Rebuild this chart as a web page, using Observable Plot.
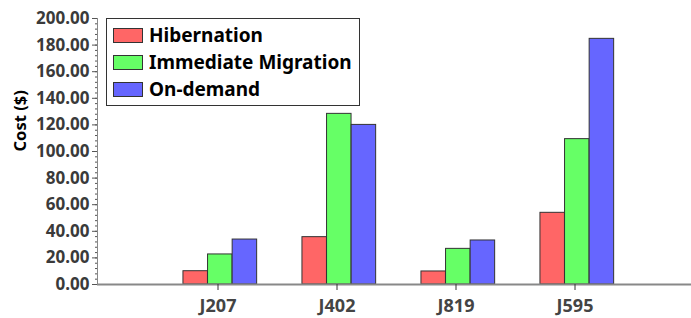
<!DOCTYPE html>
<html>
<head>
<meta charset="utf-8">
<script src="https://cdn.jsdelivr.net/npm/d3@7"></script>
<script src="https://cdn.jsdelivr.net/npm/@observablehq/plot@0.6"></script>
<style>
  html, body { margin: 0; padding: 0; background: #fff; }
  #wrap { position: relative; width: 691px; height: 318px; font-family: "Noto Sans", sans-serif; font-weight: bold; }
  #legend { position: absolute; left: 106px; top: 18px; width: 252px; height: 86px; border: 1px solid #333; background: #fff; box-sizing: content-box; }
  .row { position: absolute; left: 6px; height: 20px; display: flex; align-items: center; font-size: 19px; color: #000; white-space: nowrap; }
  .sw { width: 28px; height: 13px; border: 1px solid #333; margin-right: 6px; }
</style>
</head>
<body>
<div id="wrap"><div id="legend"></div></div>
<script>
const jobs = ["J207", "J402", "J819", "J595"];
const series = ["Hibernation", "Immediate Migration", "On-demand"];
const colors = ["#ff6666", "#66ff66", "#6666ff"];
const hibernation = [10.0, 35.6, 9.8, 53.9];
const immediateMigration = [22.6, 128.3, 26.8, 109.3];
const onDemand = [33.8, 120.0, 33.1, 184.7];
const yTicks = d3.range(0, 201, 20);
const yMinorTicks = d3.range(0, 201, 4);

const values = [hibernation, immediateMigration, onDemand];
const data = jobs.flatMap((job, i) => series.map((s, k) => ({job, series: s, value: values[k][i]})));

const barW = 24.6;
const bandW = (634.4 - 158) / jobs.length;
const inset = (bandW - barW) / 2;
const offsets = [-22.3, 2.3, 26.9];

const chart = Plot.plot({
  width: 691,
  height: 318,
  marginLeft: 97,
  marginRight: 0,
  marginTop: 18,
  marginBottom: 34,
  style: {fontFamily: "Noto Sans", fontWeight: "bold", background: "#fff"},
  x: {type: "band", domain: jobs, range: [158, 634.4], padding: 0},
  y: {domain: [0, 200]},
  color: {domain: series, range: colors},
  marks: [
    ...series.map((s, k) => Plot.barY(data.filter(d => d.series === s), {
      x: "job", y: "value", fill: "series", stroke: "#333", strokeWidth: 1,
      insetLeft: inset, insetRight: inset, dx: offsets[k]
    })),
    Plot.ruleY([0], {stroke: "#888", strokeWidth: 2}),
    Plot.frame({anchor: "left", stroke: "#888", strokeWidth: 1}),
    Plot.axisY({ticks: yMinorTicks, tickSize: 2, tickFormat: () => "", stroke: "#555", label: null}),
    Plot.axisY({ticks: yTicks, tickSize: 5, tickPadding: 3, tickFormat: d3.format(".2f"), fontSize: 17, fill: "#3a3a3a", stroke: "#555", label: null}),
    Plot.axisX({tickSize: 6, tickPadding: 9, fontSize: 18, fill: "#444", stroke: "#333", label: null}),
    Plot.text(["Cost ($)"], {text: d => d, frameAnchor: "left", dx: -77, rotate: -90, fontSize: 16.5, fontWeight: "bold", fill: "#000"})
  ]
});
document.getElementById("wrap").prepend(chart);

const legend = document.getElementById("legend");
series.forEach((s, k) => {
  const row = document.createElement("div");
  row.className = "row";
  row.style.top = (6 + 27 * k) + "px";
  const sw = document.createElement("div");
  sw.className = "sw";
  sw.style.background = colors[k];
  row.appendChild(sw);
  row.appendChild(document.createTextNode(s));
  legend.appendChild(row);
});
</script>
</body>
</html>
